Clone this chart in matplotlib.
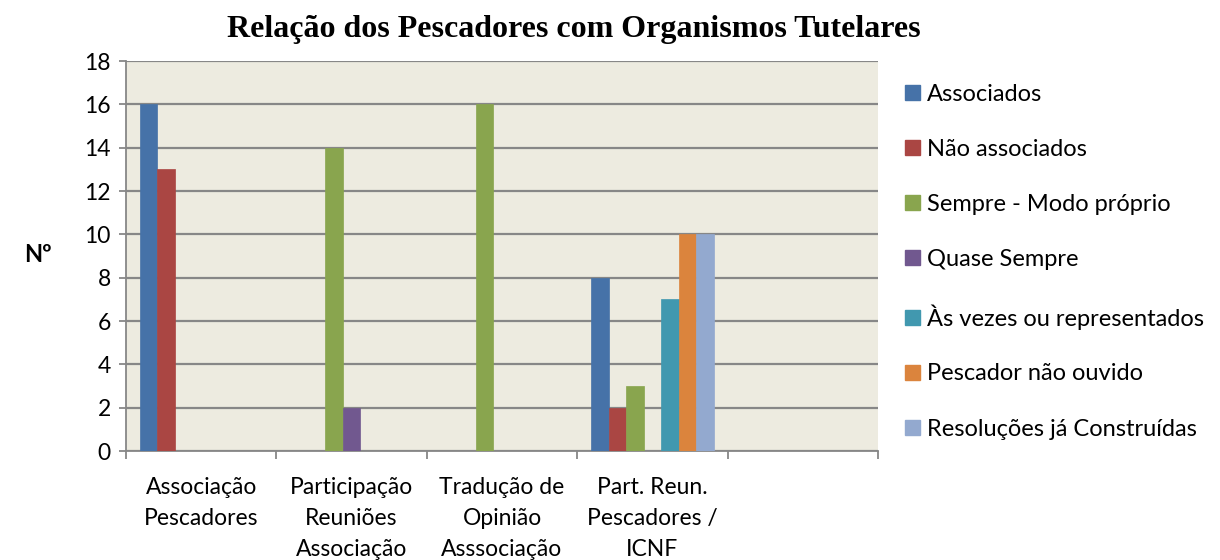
import numpy as np
import matplotlib.pyplot as plt
from matplotlib.patches import Patch

categories = ['Associação\nPescadores', 'Participação\nReuniões\nAssociação',
              'Tradução de\nOpinião\nAsssociação', 'Part. Reun.\nPescadores /\nICNF', '']
series_names = ['Associados', 'Não associados', 'Sempre - Modo próprio', 'Quase Sempre',
                'Às vezes ou representados', 'Pescador não ouvido', 'Resoluções já Construídas']
associados = [16, 0, 0, 8, 0]
nao_associados = [13, 0, 0, 2, 0]
sempre = [0, 14, 16, 3, 0]
quase_sempre = [0, 2, 0, 0, 0]
as_vezes = [0, 0, 0, 7, 0]
nao_ouvido = [0, 0, 0, 10, 0]
resolucoes = [0, 0, 0, 10, 0]
values = [associados, nao_associados, sempre, quase_sempre, as_vezes, nao_ouvido, resolucoes]
colors = ['#4672A8', '#AA4643', '#89A54E', '#71588F', '#4198AF', '#DB843D', '#93A9CF']

plt.rcParams['font.family'] = ['Lato', 'DejaVu Sans']

fig = plt.figure(figsize=(12.2, 5.6), dpi=100)
ax = fig.add_axes([126 / 1220, 1 - 451 / 560, 752 / 1220, 390 / 560])
ax.set_facecolor('#EDEBE0')

x = np.arange(len(categories))
n = len(values)
w = 1 / (n + 1.6)
start = -0.5 + 0.8 * w
for j, (vals, c) in enumerate(zip(values, colors)):
    ax.bar(x + start + j * w, vals, width=w, align='edge', color=c, zorder=3,
           edgecolor=c, linewidth=0.5)

ax.set_xlim(-0.5, len(categories) - 0.5)
ax.set_ylim(0, 18)
ax.set_yticks(np.arange(0, 19, 2))
ax.yaxis.grid(True, color='#878787', linewidth=1.6, zorder=1)
ax.set_axisbelow(True)

ax.set_xticks(x)
ax.set_xticklabels(categories, fontsize=16.5, linespacing=1.58)
ax.set_xticks(np.arange(-0.5, len(categories)), minor=True)
ax.tick_params(axis='x', which='major', length=0, pad=19)
ax.tick_params(axis='x', which='minor', length=6, width=1.3, color='#878787')
ax.tick_params(axis='y', length=5, width=1.3, color='#878787', labelsize=16.5, pad=6)

for s in ['top', 'right']:
    ax.spines[s].set_visible(False)
for s in ['left', 'bottom']:
    ax.spines[s].set_color('#878787')
    ax.spines[s].set_linewidth(1.3)

fig.text(38 / 1220, 1 - 255 / 560, 'Nº', fontsize=17, fontweight='bold', ha='center', va='center')
fig.text(574 / 1220, 1 - 30 / 560, 'Relação dos Pescadores com Organismos Tutelares',
         fontsize=23, fontweight='bold', family='Liberation Serif', ha='center', va='center')

handles = [Patch(facecolor=c, edgecolor=c) for c in colors]
fig.legend(handles, series_names, loc='upper left', bbox_to_anchor=(905 / 1220, 1 - 84 / 560),
           frameon=False, fontsize=17, handlelength=0.62, handleheight=0.62,
           handletextpad=0.3, labelspacing=1.44, borderaxespad=0, borderpad=0)

fig.savefig('out.png', dpi=100)
